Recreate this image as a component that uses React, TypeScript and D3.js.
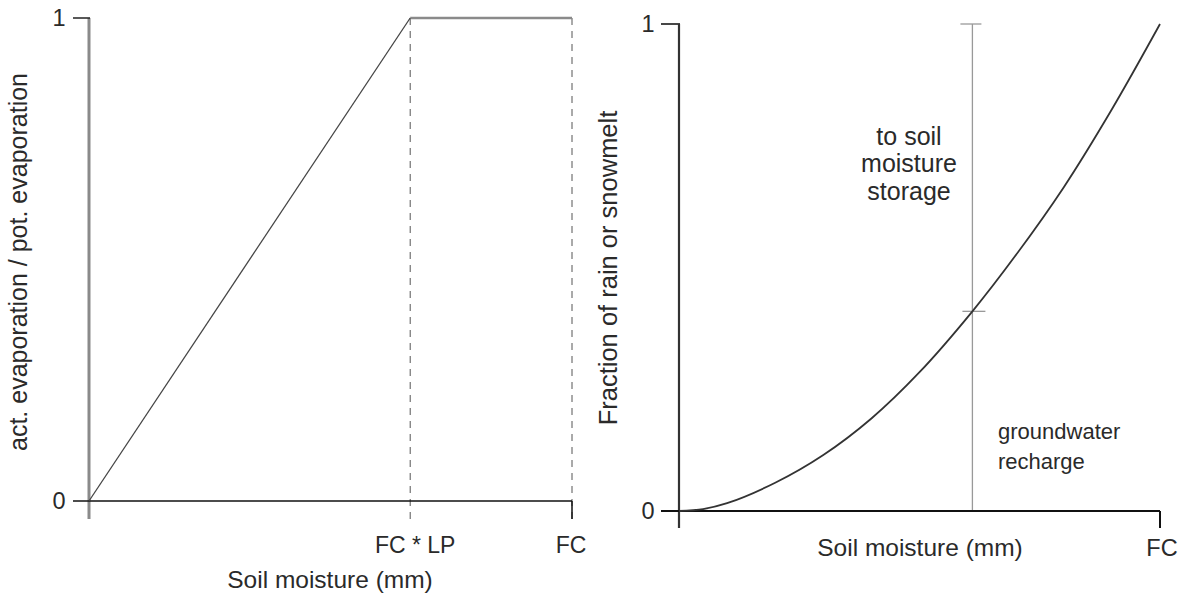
import React from "react";
import * as d3 from "d3";

// Left panel: actual/potential evaporation vs soil moisture (fraction of FC)
const leftSoil = [0, 0.665, 1];
const leftRatio = [0, 1, 1];
const leftXTicks = [
  { v: 0.665, label: "FC * LP" },
  { v: 1, label: "FC" },
];
const yTickLabels = ["0", "1"];

// Right panel: fraction of rain/snowmelt vs soil moisture (fraction of FC)
const rightSoil = [0, 0.05, 0.1, 0.2, 0.3, 0.4, 0.5, 0.61, 0.7, 0.8, 0.9, 1];
const rightFrac = [0, 0.004, 0.016, 0.058, 0.115, 0.19, 0.285, 0.41, 0.525, 0.665, 0.825, 1];
const markerSoil = 0.61;
const markerFrac = 0.41;

const W = 1182;
const H = 594;
const FONT = "'Liberation Sans', Arial, sans-serif";
const TXT = "#2a2a2a";
const FS_TICK = 23;
const FS_TITLE = 24.5;
const FS_NOTE = 22;
const FS_NOTE2 = 25;

export default function App() {
  const xL = d3.scaleLinear().domain([0, 1]).range([89, 572]);
  const yL = d3.scaleLinear().domain([0, 1]).range([501, 18]);
  const xR = d3.scaleLinear().domain([0, 1]).range([679, 1160]);
  const yR = d3.scaleLinear().domain([0, 1]).range([511, 24]);

  const rightLine = d3
    .line<number>()
    .x((_, i) => xR(rightSoil[i]))
    .y((_, i) => yR(rightFrac[i]))
    .curve(d3.curveCatmullRom.alpha(0.5));

  const lpIdx = 1;
  const diag = `M${xL(leftSoil[0])},${yL(leftRatio[0])}L${xL(leftSoil[lpIdx])},${yL(leftRatio[lpIdx])}`;
  const plateau = `M${xL(leftSoil[lpIdx])},${yL(leftRatio[lpIdx])}L${xL(leftSoil[2])},${yL(leftRatio[2])}`;

  return (
    <svg
      width={W}
      height={H}
      style={{ position: "absolute", left: 0, top: 0, background: "#fff", fontFamily: FONT }}
    >
      {/* ---------- LEFT PANEL ---------- */}
      {leftXTicks.map((t, i) => (
        <line
          key={"d" + i}
          x1={xL(t.v)}
          x2={xL(t.v)}
          y1={yL(1)}
          y2={yL(0) + 18}
          stroke="#555"
          strokeWidth={1}
          strokeDasharray="7,6"
        />
      ))}
      <line x1={xL(0)} x2={xL(0)} y1={yL(1)} y2={yL(0) + 18} stroke="#8a8a8a" strokeWidth={3} />
      <line x1={xL(0) - 16} x2={xL(0) + 1} y1={yL(1)} y2={yL(1)} stroke="#222" strokeWidth={1.5} />
      <line x1={xL(0) - 16} x2={xL(1)} y1={yL(0)} y2={yL(0)} stroke="#111" strokeWidth={1.5} />
      <line x1={xL(1)} x2={xL(1)} y1={yL(0)} y2={yL(0) + 18} stroke="#111" strokeWidth={1.5} />
      <path d={plateau} fill="none" stroke="#8a8a8a" strokeWidth={2.5} />
      <path d={diag} fill="none" stroke="#444" strokeWidth={1.3} />
      {yTickLabels.map((l, i) => (
        <text key={"yl" + i} x={xL(0) - 30} y={yL(i)} dy="0.36em" fontSize={FS_TITLE - 1} textAnchor="middle" fill={TXT}>
          {l}
        </text>
      ))}
      {leftXTicks.map((t, i) => (
        <text key={"xl" + i} x={xL(t.v) + (i === 0 ? 5 : -1)} y={553} fontSize={FS_TICK} textAnchor="middle" fill={TXT}>
          {t.label}
        </text>
      ))}
      <text x={330} y={588} fontSize={FS_TITLE} textAnchor="middle" fill={TXT}>
        Soil moisture (mm)
      </text>
      <text transform={`translate(27,262) rotate(-90)`} fontSize={FS_TITLE + 0.5} textAnchor="middle" fill={TXT}>
        act. evaporation / pot. evaporation
      </text>

      {/* ---------- RIGHT PANEL ---------- */}
      <line x1={xR(markerSoil)} x2={xR(markerSoil)} y1={yR(1)} y2={yR(0)} stroke="#999" strokeWidth={1.3} />
      <line x1={xR(markerSoil) - 12} x2={xR(markerSoil) + 9} y1={yR(1)} y2={yR(1)} stroke="#999" strokeWidth={1.3} />
      <line
        x1={xR(markerSoil) - 10}
        x2={xR(markerSoil) + 13}
        y1={yR(markerFrac)}
        y2={yR(markerFrac)}
        stroke="#999"
        strokeWidth={1.3}
      />
      <line x1={xR(0)} x2={xR(0)} y1={yR(1)} y2={yR(0) + 17} stroke="#333" strokeWidth={2.2} />
      <line x1={xR(0) - 18} x2={xR(0) + 1} y1={yR(1)} y2={yR(1)} stroke="#333" strokeWidth={1.8} />
      <line x1={xR(0) - 18} x2={xR(1)} y1={yR(0)} y2={yR(0)} stroke="#111" strokeWidth={2} />
      <line x1={xR(1)} x2={xR(1)} y1={yR(0)} y2={yR(0) + 17} stroke="#111" strokeWidth={2} />
      <path d={rightLine(rightSoil) || ""} fill="none" stroke="#333" strokeWidth={1.8} />
      {yTickLabels.map((l, i) => (
        <text key={"yr" + i} x={xR(0) - 31} y={yR(i)} dy="0.36em" fontSize={FS_TITLE - 1} textAnchor="middle" fill={TXT}>
          {l}
        </text>
      ))}
      <text x={xR(1) + 2} y={556} fontSize={FS_TITLE - 1} textAnchor="middle" fill={TXT}>
        FC
      </text>
      <text x={920} y={556} fontSize={FS_TITLE} textAnchor="middle" fill={TXT}>
        Soil moisture (mm)
      </text>
      <text transform={`translate(617,268) rotate(-90)`} fontSize={FS_TITLE + 1} textAnchor="middle" fill={TXT}>
        Fraction of rain or snowmelt
      </text>
      <text fontSize={FS_NOTE2} textAnchor="middle" fill={TXT}>
        <tspan x={909} y={145}>to soil</tspan>
        <tspan x={909} y={172}>moisture</tspan>
        <tspan x={909} y={200}>storage</tspan>
      </text>
      <text fontSize={FS_NOTE} textAnchor="start" fill={TXT}>
        <tspan x={998} y={439}>groundwater</tspan>
        <tspan x={998} y={469}>recharge</tspan>
      </text>
    </svg>
  );
}
